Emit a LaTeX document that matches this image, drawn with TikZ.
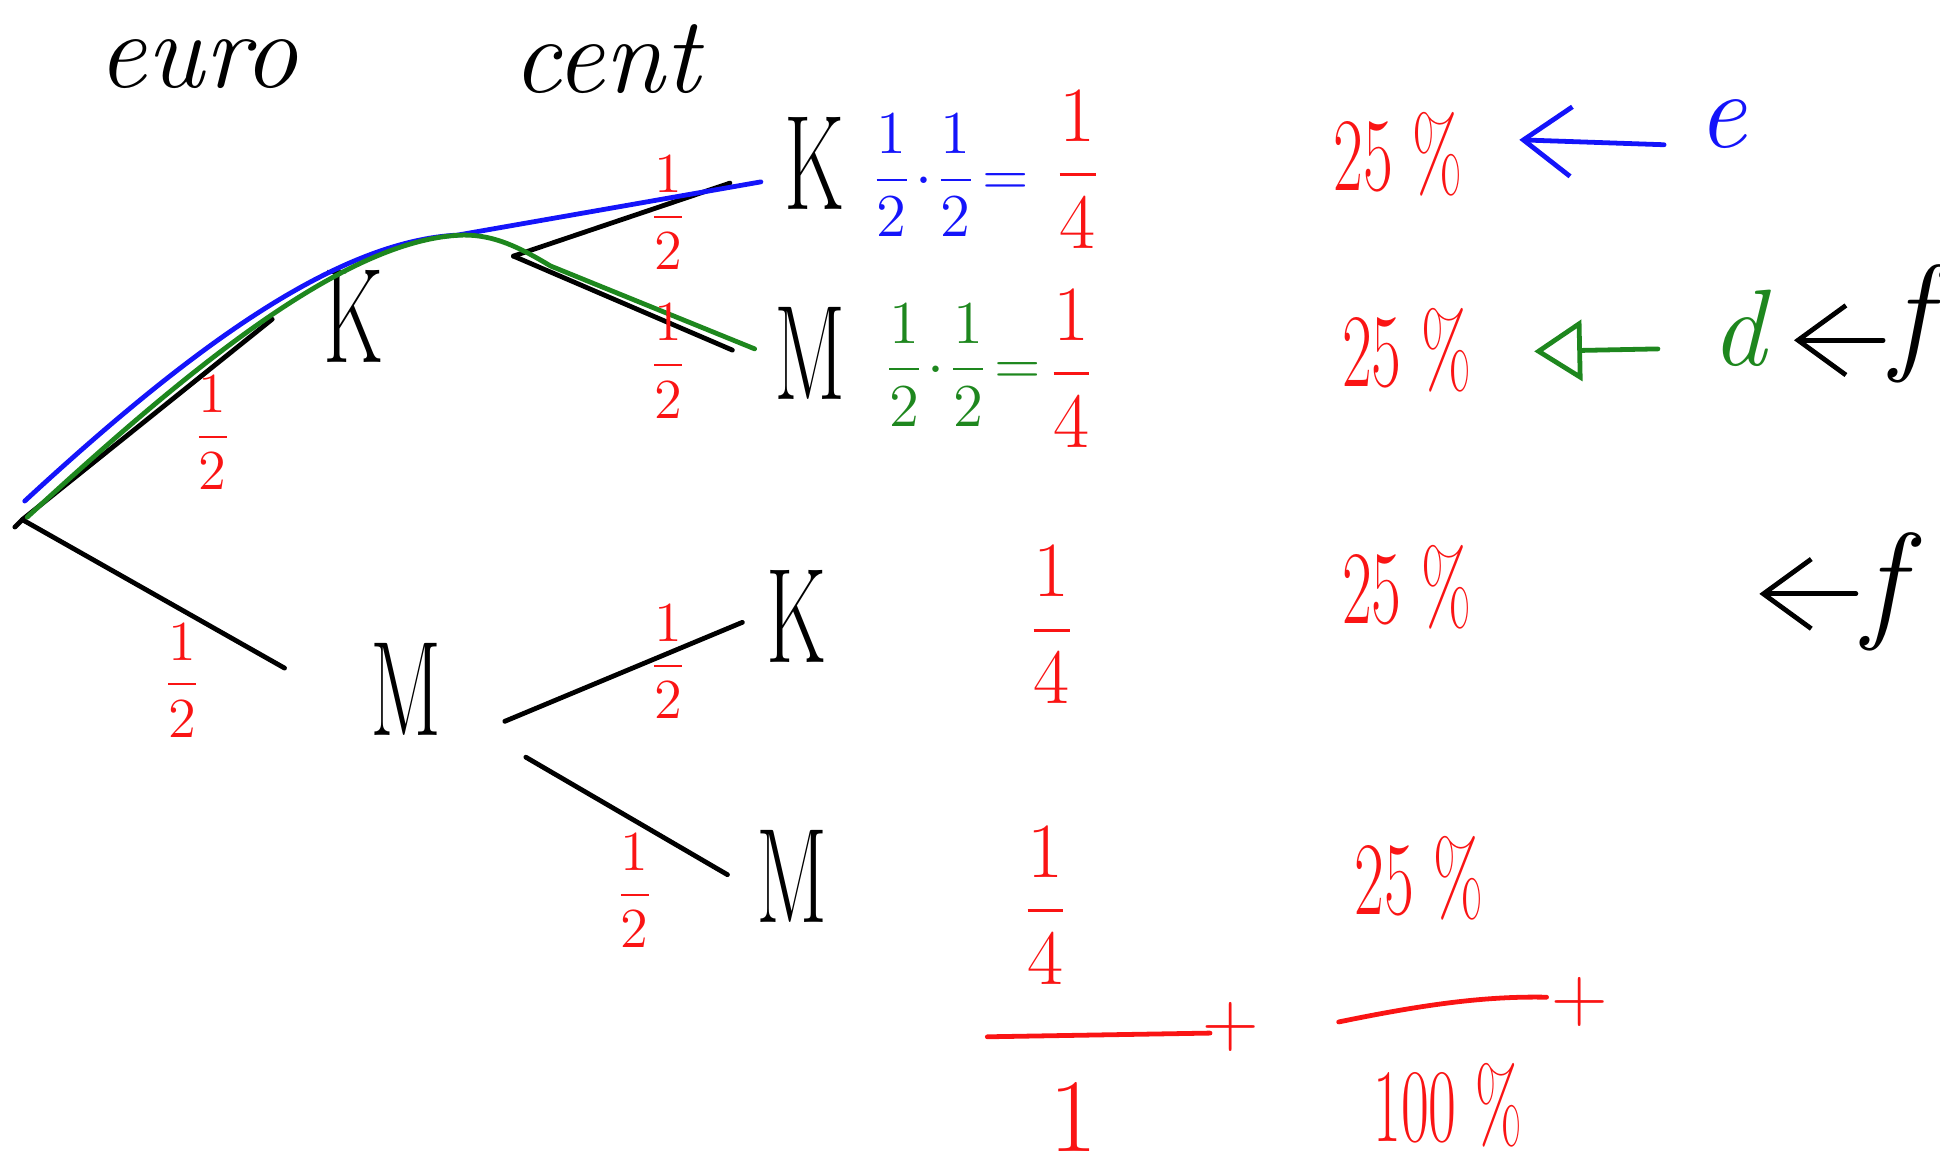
\IfFileExists{fix-cm.sty}{\RequirePackage{fix-cm}}{}
\documentclass[tikz,border=0pt]{standalone}
\usepackage{amsmath}
\usepackage{graphicx}
\usetikzlibrary{arrows.meta}
\definecolor{hred}{RGB}{250,20,20}
\definecolor{hblue}{RGB}{20,20,250}
\definecolor{hgreen}{RGB}{30,135,30}
\newcommand\narrow[2][0.62]{\scalebox{#1}[1]{#2}}
\begin{document}
\begin{tikzpicture}[x=0.01cm,y=-0.01cm, line cap=round, line join=round,
  ink/.style={line width=1.1pt},
  lbl/.style={inner sep=0pt, font=\fontsize{31}{36}\selectfont},
  word/.style={inner sep=0pt, font=\itshape\fontsize{25}{30}\selectfont},
  tall/.style={inner sep=0pt, font=\itshape\fontsize{30}{36}\selectfont},
  half/.style={inner sep=0pt, text=hred, font=\fontsize{13}{16}\selectfont},
  prod/.style={inner sep=0pt, font=\fontsize{14}{17}\selectfont},
  quart/.style={inner sep=0pt, text=hred, font=\fontsize{18}{22}\selectfont},
  pct/.style={inner sep=0pt, text=hred, font=\fontsize{24}{28}\selectfont},
  plus/.style={inner sep=0pt, text=hred, font=\fontsize{18}{22}\selectfont},
  barb/.style={-{Straight Barb[length=11pt,width=16pt]}},
  tri/.style={-{Triangle[open,length=11pt,width=14pt]}},
]
\useasboundingbox (0,0) rectangle (1568,943);

% headers
\node[word] (euro) at (160,52) {euro};
\node[word] (cent) at (490,48) {cent};

% tree nodes
\coordinate (root) at (18,420);
\node[lbl] (K1) at (286,256) {\narrow{K}};
\node[lbl] (M1) at (328,557) {\narrow{M}};
\node[lbl] (K2) at (658,132) {\narrow{K}};
\node[lbl] (M2) at (655,286) {\narrow{M}};
\node[lbl] (K3) at (644,498) {\narrow{K}};
\node[lbl] (M3) at (640,708) {\narrow{M}};

\coordinate (rt) at (12,426);
\coordinate (r1) at (220,258);
\coordinate (r2) at (230,540);
\coordinate (k1o) at (415,207);
\coordinate (k2i) at (590,148);
\coordinate (m2i) at (592,283);
\coordinate (m1a) at (408,583);
\coordinate (m1b) at (425,612);
\coordinate (k3i) at (600,503);
\coordinate (m3i) at (588,707);

\draw[ink] (rt) -- (root) -- (r1);
\draw[ink] (root) -- (r2);
\draw[ink] (k1o) -- (k2i);
\draw[ink] (k1o) -- (m2i);
\draw[ink] (m1a) -- (k3i);
\draw[ink] (m1b) -- (m3i);

% coloured paths
\draw[ink,hblue] (20,405) .. controls (150,285) and (270,195) .. (370,190) -- (615,147);
\draw[ink,hgreen] (22,418) .. controls (150,300) and (280,192) .. (375,190)
  .. controls (400,190) and (420,200) .. (445,215) -- (610,282);

% branch probabilities
\node[half] (h1) at (172,350) {$\dfrac12$};
\node[half] (h2) at (540,172) {$\dfrac12$};
\node[half] (h3) at (540,292) {$\dfrac12$};
\node[half] (h4) at (147,550) {$\dfrac12$};
\node[half] (h5) at (540,535) {$\dfrac12$};
\node[half] (h6) at (513,720) {$\dfrac12$};

% products
\node[prod,text=hblue] (b1) at (768,142) {$\dfrac12\!\cdot\!\dfrac12\!=$};
\node[quart] (q1) at (871,137) {$\dfrac14$};
\node[prod,text=hgreen] (g1) at (778,295) {$\dfrac12\!\cdot\!\dfrac12\!=$};
\node[quart] (q2) at (866,298) {$\dfrac14$};
\node[quart] (q3) at (850,505) {$\dfrac14$};
\node[quart] (q4) at (845,732) {$\dfrac14$};

% percentages
\node[pct] (p1) at (1130,125) {\narrow{25 \%}};
\node[pct] (p2) at (1137,283) {\narrow{25 \%}};
\node[pct] (p3) at (1137,475) {\narrow{25 \%}};
\node[pct] (p4) at (1147,710) {\narrow{25 \%}};

% sums
\coordinate (s1a) at (798,838);
\coordinate (s1b) at (978,835);
\coordinate (s2a) at (1082,826);
\coordinate (s2b) at (1250,806);
\draw[ink,hred] (s1a) -- (s1b);
\draw[ink,hred] (s2a) .. controls (1150,812) and (1200,805) .. (s2b);
\node[plus] (plus1) at (995,830) {+};
\node[plus] (plus2) at (1277,810) {+};
\node[pct] (one) at (868,903) {1};
\node[pct] (p5) at (1170,893) {\narrow[0.58]{100 \%}};

% events
\node[word,text=hblue] (e) at (1392,100) {e};
\node[word,text=hgreen] (d) at (1405,265) {d};
\node[tall] (f1) at (1545,262) {f};
\node[tall] (f2) at (1522,478) {f};
\coordinate (a1s) at (1345,117);
\coordinate (a1e) at (1228,113);
\coordinate (a2s) at (1340,282);
\coordinate (a2e) at (1240,284);
\coordinate (a3s) at (1522,275);
\coordinate (a3e) at (1450,275);
\coordinate (a4s) at (1500,480);
\coordinate (a4e) at (1422,480);
\draw[ink,hblue,barb] (a1s) -- (a1e);
\draw[ink,hgreen,tri] (a2s) -- (a2e);
\draw[ink,barb] (a3s) -- (a3e);
\draw[ink,barb] (a4s) -- (a4e);
\end{tikzpicture}
\end{document}
